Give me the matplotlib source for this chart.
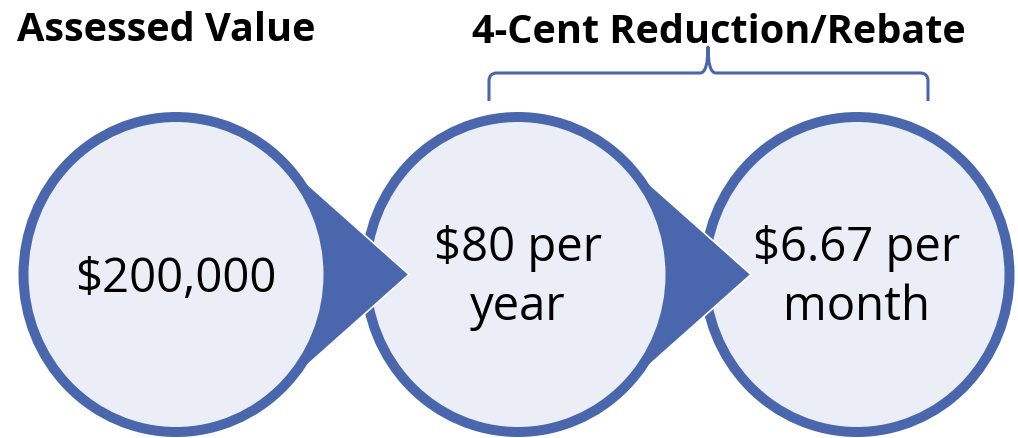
import matplotlib.pyplot as plt
from matplotlib.patches import Ellipse, Polygon, PathPatch
from matplotlib.path import Path

# diagram content
headers = ['Assessed Value', '4-Cent Reduction/Rebate']
step_lines = [['$200,000'], ['$80 per', 'year'], ['$6.67 per', 'month']]

BLUE = '#4A67AD'
FILL = '#EBEEF7'

fig = plt.figure(figsize=(10.18, 4.39), dpi=100)
ax = fig.add_axes([0, 0, 1, 1])
ax.set_xlim(0, 1018)
ax.set_ylim(439, 0)
ax.axis('off')

# pixel layout of the three circles
centers_x = [176, 518, 857]
cy = 275.5
w, h = 305, 315      # ellipse size at stroke centre
lw = 7.2             # ~10 px stroke
tip = 233            # distance from centre to arrow tip

z = 1
# draw from right to left so each arrow sits on top of the next circle
for i in reversed(range(len(centers_x))):
    cx = centers_x[i]
    circ = Ellipse((cx, cy), w, h, facecolor=FILL, edgecolor=BLUE, linewidth=lw, zorder=z + 1)
    if i < len(centers_x) - 1:
        dx, dy = 0.707 * w / 2, 0.707 * h / 2
        arrow = Polygon([(cx, cy), (cx + dx, cy - dy), (cx + tip, cy), (cx + dx, cy + dy)],
                        closed=True, facecolor=BLUE, edgecolor='white', linewidth=1.2, zorder=z)
        ax.add_patch(arrow)
    ax.add_patch(circ)

    lines = step_lines[i]
    if len(lines) == 1:
        baselines = [292]
    else:
        baselines = [261, 320]
    for txt, yb in zip(lines, baselines):
        ax.text(cx, yb, txt, ha='center', va='baseline', fontsize=34,
                family='Open Sans', color='black', zorder=20)
    z += 2

# headers
ax.text(17, 41, headers[0], ha='left', va='baseline', fontsize=28.5,
        family='Open Sans', fontweight='bold', color='black')
ax.text(472, 43, headers[1], ha='left', va='baseline', fontsize=28.5,
        family='Open Sans', fontweight='bold', color='black')

# curly bracket over the last two circles
xl, xr, xm = 489, 928, 708
yb, yh, yt = 102, 74, 48
verts = [(xl, yb), (xl, yh + 8), (xl, yh), (xl + 8, yh),
         (xm - 8, yh), (xm, yh), (xm, yt),
         (xm, yh), (xm + 8, yh),
         (xr - 8, yh), (xr, yh), (xr, yh + 8), (xr, yb)]
codes = [Path.MOVETO, Path.LINETO, Path.CURVE3, Path.CURVE3,
         Path.LINETO, Path.CURVE3, Path.CURVE3,
         Path.CURVE3, Path.CURVE3,
         Path.LINETO, Path.CURVE3, Path.CURVE3, Path.LINETO]
ax.add_patch(PathPatch(Path(verts, codes), facecolor='none', edgecolor=BLUE,
                       linewidth=2.2, capstyle='butt', joinstyle='round'))

fig.savefig('out.png', dpi=100)
